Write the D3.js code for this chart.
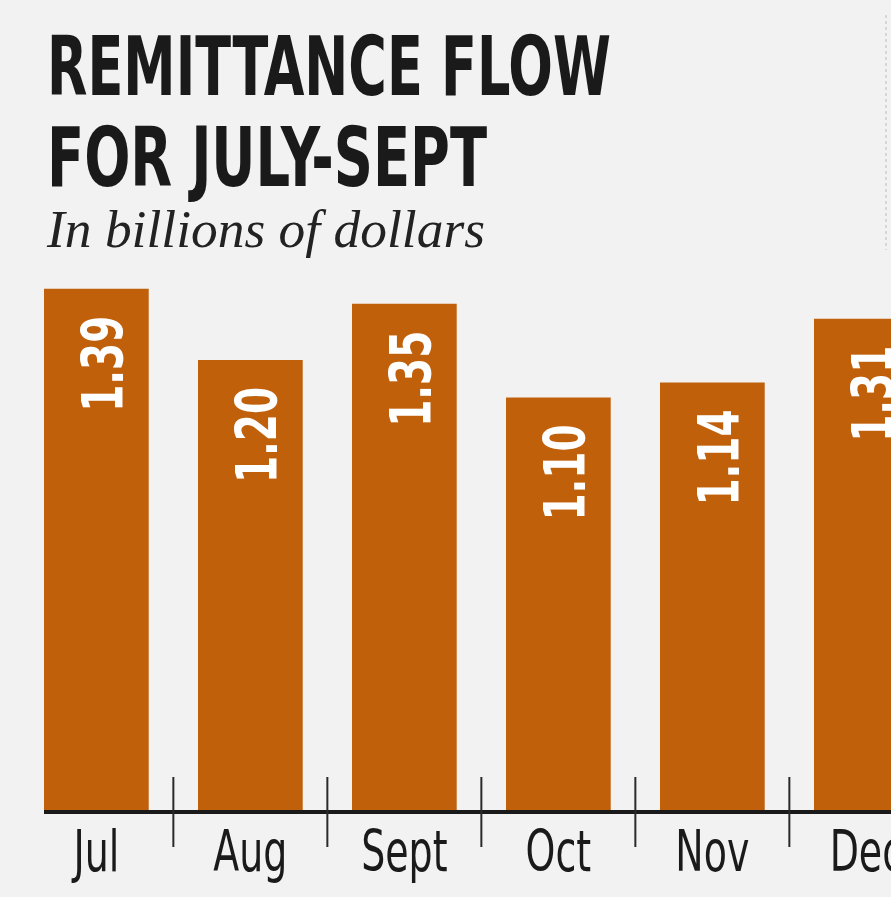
<!DOCTYPE html>
<html>
<head>
<meta charset="utf-8">
<script src="https://cdn.jsdelivr.net/npm/d3@7"></script>
<style>
  html, body { margin: 0; padding: 0; background: #f2f2f2; overflow: hidden; }
  svg { display: block; }
</style>
</head>
<body>
<script>
(function() {
  var W = 891, H = 897;
  var months = ['Jul', 'Aug', 'Sept', 'Oct', 'Nov', 'Dec'];
  var values = [1.39, 1.20, 1.35, 1.10, 1.14, 1.31];
  var titleLines = ['REMITTANCE FLOW', 'FOR JULY-SEPT'];
  var subtitle = 'In billions of dollars';

  var data = months.map(function(m, i) { return { month: m, value: values[i] }; });

  var svg = d3.select('body').append('svg').attr('width', W).attr('height', H);
  svg.append('rect').attr('width', W).attr('height', H).attr('fill', '#f2f2f2');

  var condensed = "'DejaVu Sans Condensed', 'Liberation Sans Narrow', sans-serif";

  // title
  svg.selectAll('text.title').data(titleLines).enter().append('text')
    .attr('class', 'title')
    .attr('x', 47)
    .attr('y', function(d, i) { return 95 + i * 91; })
    .attr('textLength', function(d, i) { return i === 0 ? 564 : 440; })
    .attr('lengthAdjust', 'spacingAndGlyphs')
    .attr('font-family', condensed)
    .attr('font-weight', 'bold')
    .attr('font-size', 82)
    .attr('fill', '#1a1a1a')
    .text(function(d) { return d; });

  svg.append('text')
    .attr('x', 47).attr('y', 247)
    .attr('textLength', 438)
    .attr('lengthAdjust', 'spacingAndGlyphs')
    .attr('font-family', "'Liberation Serif', 'DejaVu Serif', serif")
    .attr('font-style', 'italic')
    .attr('font-size', 52)
    .attr('fill', '#222')
    .text(subtitle);

  // faint scan edge on the right
  svg.append('line')
    .attr('x1', 886).attr('x2', 886).attr('y1', 15).attr('y2', 250)
    .attr('stroke', '#d6d6d6').attr('stroke-width', 2).attr('stroke-dasharray', '3,3');

  var base = 810;
  var step = 154;
  var x = d3.scaleBand().domain(months)
    .range([44, 44 + months.length * step - 0.32 * step])
    .paddingInner(0.32).paddingOuter(0);
  var y = d3.scaleLinear().domain([0, 1.4]).range([base, base - 525]);

  var g = svg.append('g');

  g.selectAll('rect.bar').data(data).enter().append('rect')
    .attr('class', 'bar')
    .attr('x', function(d) { return x(d.month); })
    .attr('y', function(d) { return y(d.value); })
    .attr('width', x.bandwidth())
    .attr('height', function(d) { return base - y(d.value); })
    .attr('fill', '#c1600b');

  g.selectAll('text.val').data(data).enter().append('text')
    .attr('class', 'val')
    .attr('transform', function(d) {
      var cx = x(d.month) + x.bandwidth() / 2 + 27;
      return 'translate(' + cx + ',' + (y(d.value) + 27) + ') rotate(-90)';
    })
    .attr('text-anchor', 'end')
    .attr('textLength', 96)
    .attr('lengthAdjust', 'spacingAndGlyphs')
    .attr('font-family', condensed)
    .attr('font-weight', 'bold')
    .attr('font-size', 57)
    .attr('fill', '#fff')
    .text(function(d) { return d.value.toFixed(2); });

  // axis
  var axis = d3.axisBottom(x).tickSize(0).tickPadding(18);
  var ax = svg.append('g').attr('transform', 'translate(0,' + (base + 2) + ')').call(axis);
  ax.select('.domain').remove();
  ax.selectAll('text')
    .attr('font-family', condensed)
    .attr('font-size', 57)
    .attr('fill', '#1a1a1a')
    .attr('dy', '0.72em')
    .attr('transform', 'scale(0.74,1)');

  svg.append('line')
    .attr('x1', 44).attr('x2', W).attr('y1', base + 2).attr('y2', base + 2)
    .attr('stroke', '#1a1a1a').attr('stroke-width', 4);

  // separators between months
  var seps = months.slice(1);
  svg.selectAll('line.sep').data(seps).enter().append('line')
    .attr('class', 'sep')
    .attr('x1', function(m) { return x(m) - (step - x.bandwidth()) / 2; })
    .attr('x2', function(m) { return x(m) - (step - x.bandwidth()) / 2; })
    .attr('y1', 777).attr('y2', 847)
    .attr('stroke', '#2a2a2a').attr('stroke-width', 2);
})();
</script>
</body>
</html>
